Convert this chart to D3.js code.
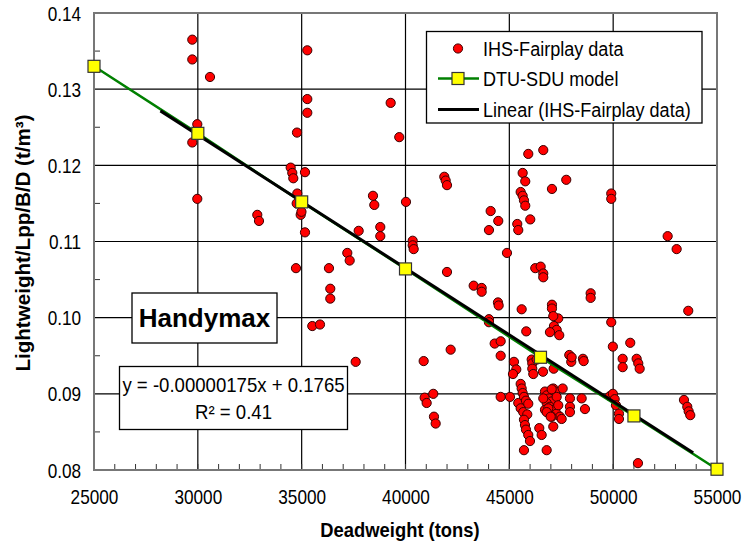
<!DOCTYPE html>
<html><head><meta charset="utf-8">
<script src="https://cdn.jsdelivr.net/npm/d3@7"></script>
<style>body{margin:0;background:#fff}svg{display:block}</style>
</head><body><svg id="c" width="742" height="551"></svg>
<script>
const xTicks=[25000,30000,35000,40000,45000,50000,55000];
const yTicks=[0.08,0.09,0.10,0.11,0.12,0.13,0.14];
const dwt=[29733,29733,30586,35271,35271,35271,34775,29974,29733,39286,39700,34471,34548,34597,35160,34789,34760,34953,34990,35160,
29974,32863,32945,34726,41868,41935,41998,38434,38497,40023,37745,38786,38786,40346,40346,40394,44101,44467,44019,45382,
45430,44886,37197,37312,36315,36378,36378,41998,43283,43668,43668,44453,44486,44019,45642,45767,47053,47741,45546,45642,
45705,45767,46008,49908,49908,52624,53057,46249,46509,46634,46634,48916,48916,47053,47053,45594,53616,47356,47116,47149,
47279,47404,46956,44019,45815,42175,40875,44294,44583,44583,45223,45334,45175,46076,46105,46105,46316,46620,47135,47886,
47982,48001,48545,48580,40923,41019,41338,41371,41453,44583,45031,45430,45546,
45546,45594,45642,45705,45801,45912,45671,45864,45705,45753,45801,45912,45994,45705,46153,46442,46557,46798,
46716,46798,46923,47039,47116,47198,47279,46798,46956,47116,47279,47438,47520,47039,46634,46716,47116,47568,47356,
47919,47919,47919,48483,48642,49845,49908,49985,50823,50457,50457,51131,51209,51276,49985,50072,50135,50279,50279,
53409,53569,53636,53713,51194,35511,35882,37601,45912,46634,46876,47039,46798,46990];
const lwt=[0.1365,0.1339,0.1316,0.1351,0.1287,0.1269,0.1243,0.1254,0.1230,0.1282,0.1237,0.1197,0.1190,0.1183,0.1191,0.1163,0.1150,0.1135,0.1139,0.1112,
0.1156,0.1135,0.1127,0.1065,0.1185,0.1180,0.1174,0.1160,0.1148,0.1152,0.1114,0.1119,0.1107,0.1101,0.1095,0.1090,0.1140,0.1127,0.1115,0.1123,
0.1115,0.1085,0.1085,0.1075,0.1065,0.1038,0.1025,0.1060,0.1042,0.1039,0.1034,0.1020,0.1016,0.0998,0.1190,0.1179,0.1169,0.1181,0.1165,0.1160,
0.1154,0.1147,0.1129,0.1163,0.1156,0.1107,0.1090,0.1065,0.1067,0.1058,0.1053,0.1032,0.1026,0.1017,0.1012,0.1011,0.1009,0.0999,0.1002,0.0989,
0.0984,0.0977,0.0981,0.0994,0.0982,0.0958,0.0943,0.0966,0.0969,0.0950,0.0942,0.0932,0.0926,0.0945,0.0940,0.0933,0.0945,0.0929,0.0933,0.0951,
0.0942,0.0948,0.0946,0.0943,0.0895,0.0888,0.0900,0.0870,0.0861,0.0896,0.0896,0.0888,0.0881,
0.0913,0.0907,0.0901,0.0896,0.0891,0.0887,0.0876,0.0873,0.0866,0.0859,0.0853,0.0846,0.0838,0.0826,0.0926,0.0855,0.0846,0.0826,
0.0903,0.0898,0.0894,0.0890,0.0907,0.0903,0.0896,0.0888,0.0883,0.0879,0.0874,0.0870,0.0867,0.0870,0.0894,0.0879,0.0857,0.0907,0.0885,
0.0894,0.0883,0.0876,0.0894,0.0880,0.0897,0.0994,0.0962,0.0967,0.0946,0.0935,0.0946,0.0940,0.0933,0.0900,0.0893,0.0885,0.0874,0.0867,
0.0892,0.0883,0.0877,0.0872,0.0809,0.0989,0.0991,0.0942,0.1215,0.1220,0.0881,0.0906,0.0876,0.0870];
const modelDwt=[25000,30000,35000,40000,46500,51000,55000];
const modelLwt=[0.1330,0.1242,0.1152,0.1064,0.0948,0.0871,0.0801];
const trendRange=[28200,53850];
const trendSlope=-0.00000175, trendIntercept=0.1765;
const legendLabels=["IHS-Fairplay data","DTU-SDU model","Linear (IHS-Fairplay data)"];

const svg=d3.select("#c");
const x=d3.scaleLinear().domain([25000,55000]).range([94,717]);
const y=d3.scaleLinear().domain([0.08,0.14]).range([470,13]);
const FONT="'Liberation Sans', Arial, sans-serif";

function txt(px,py,s,size,sx,anchor,weight,rot){
  const t=svg.append("text").attr("transform",`translate(${px},${py})${rot?` rotate(${rot})`:""} scale(${sx},1)`)
    .attr("font-family",FONT).attr("font-size",size).attr("font-weight",weight||"normal")
    .attr("text-anchor",anchor||"start").attr("fill","#000").text(s);
  return t;
}

// gridlines
svg.append("g").selectAll("line").data(xTicks.slice(1,-1)).join("line")
  .attr("x1",d=>x(d)).attr("x2",d=>x(d)).attr("y1",y(0.14)).attr("y2",y(0.08))
  .attr("stroke","#000").attr("stroke-width",1.2);
svg.append("g").selectAll("line").data(yTicks.slice(1,-1)).join("line")
  .attr("y1",d=>y(d)).attr("y2",d=>y(d)).attr("x1",x(25000)).attr("x2",x(55000))
  .attr("stroke","#000").attr("stroke-width",1.2);
// minor ticks
svg.append("g").selectAll("line").data(d3.range(26000,55000,1000)).join("line")
  .attr("x1",d=>x(d)).attr("x2",d=>x(d)).attr("y1",y(0.08)).attr("y2",y(0.08)-6)
  .attr("stroke","#333").attr("stroke-width",1);
svg.append("g").selectAll("line").data(d3.range(0.085,0.14,0.01)).join("line")
  .attr("y1",d=>y(d)).attr("y2",d=>y(d)).attr("x1",x(25000)).attr("x2",x(25000)+6)
  .attr("stroke","#333").attr("stroke-width",1);
// frame
svg.append("rect").attr("x",x(25000)).attr("y",y(0.14)).attr("width",x(55000)-x(25000)).attr("height",y(0.08)-y(0.14))
  .attr("fill","none").attr("stroke","#777").attr("stroke-width",2);

// axes labels via d3 axes
const ax=svg.append("g").attr("transform",`translate(0,${y(0.08)})`)
  .call(d3.axisBottom(x).tickValues(xTicks).tickSize(0).tickPadding(0).tickFormat(d3.format("d")));
ax.select(".domain").remove();
ax.selectAll("text").attr("font-family",FONT).attr("font-size",20).attr("fill","#000")
  .attr("dy",0).attr("y",34).attr("transform","scale(0.86,1)");
const ay=svg.append("g").attr("transform",`translate(${x(25000)},0)`)
  .call(d3.axisLeft(y).tickValues(yTicks).tickSize(0).tickPadding(0).tickFormat(d3.format(".2f")));
ay.select(".domain").remove();
ay.selectAll("text").attr("font-family",FONT).attr("font-size",20).attr("fill","#000")
  .attr("x",-15).attr("dy","0.35em").attr("transform","scale(0.86,1)");

// points
svg.append("g").selectAll("circle").data(dwt.map((d,i)=>[d,lwt[i]])).join("circle")
  .attr("cx",d=>x(d[0])).attr("cy",d=>y(d[1])).attr("r",4.6)
  .attr("fill","#ff0000").attr("stroke","#3a0000").attr("stroke-width",1);

// model line
const model=modelDwt.map((d,i)=>[d,modelLwt[i]]);
svg.append("path").datum(model).attr("d",d3.line().x(d=>x(d[0])).y(d=>y(d[1])))
  .attr("fill","none").attr("stroke","#008000").attr("stroke-width",2.5);
// trend
svg.append("path").datum(trendRange.map(d=>[d,trendSlope*d+trendIntercept]))
  .attr("d",d3.line().x(d=>x(d[0])).y(d=>y(d[1])))
  .attr("fill","none").attr("stroke","#000").attr("stroke-width",3);
svg.append("g").selectAll("rect").data(model).join("rect")
  .attr("x",d=>x(d[0])-6).attr("y",d=>y(d[1])-6).attr("width",12).attr("height",12)
  .attr("fill","#ffff00").attr("stroke","#333").attr("stroke-width",1.2);

// legend
svg.append("rect").attr("x",426.5).attr("y",31.5).attr("width",275.5).attr("height",91.5)
  .attr("fill","#fff").attr("stroke","#000").attr("stroke-width",1.3);
svg.append("circle").attr("cx",458).attr("cy",48.5).attr("r",4.6).attr("fill","#ff0000").attr("stroke","#3a0000");
svg.append("line").attr("x1",438).attr("x2",479).attr("y1",78.5).attr("y2",78.5).attr("stroke","#008000").attr("stroke-width",2.5);
svg.append("rect").attr("x",452).attr("y",72.5).attr("width",12).attr("height",12).attr("fill","#ffff00").attr("stroke","#333").attr("stroke-width",1.2);
svg.append("line").attr("x1",438).attr("x2",479).attr("y1",109.5).attr("y2",109.5).attr("stroke","#000").attr("stroke-width",3);
[56,86,117].forEach((b,i)=>txt(483,b,legendLabels[i],21,0.86,"start"));

// Handymax box
svg.append("rect").attr("x",132).attr("y",293).attr("width",145).attr("height",50)
  .attr("fill","#fff").attr("stroke","#000").attr("stroke-width",1.3);
txt(204.5,327,"Handymax",26,1,"middle","bold");

// equation box
svg.append("rect").attr("x",119.5).attr("y",366.5).attr("width",228).attr("height",63)
  .attr("fill","#fff").attr("stroke","#000").attr("stroke-width",1.3);
txt(233.5,392,"y = -0.00000175x + 0.1765",20,0.93,"middle");
txt(233.5,418.5,"R² = 0.41",20,0.93,"middle");

// axis titles
txt(400,537,"Deadweight (tons)",20,0.92,"middle","bold");
txt(30,243,"Lightweight/Lpp/B/D (t/m³)",21,0.98,"middle","bold",-90);
</script></body></html>
